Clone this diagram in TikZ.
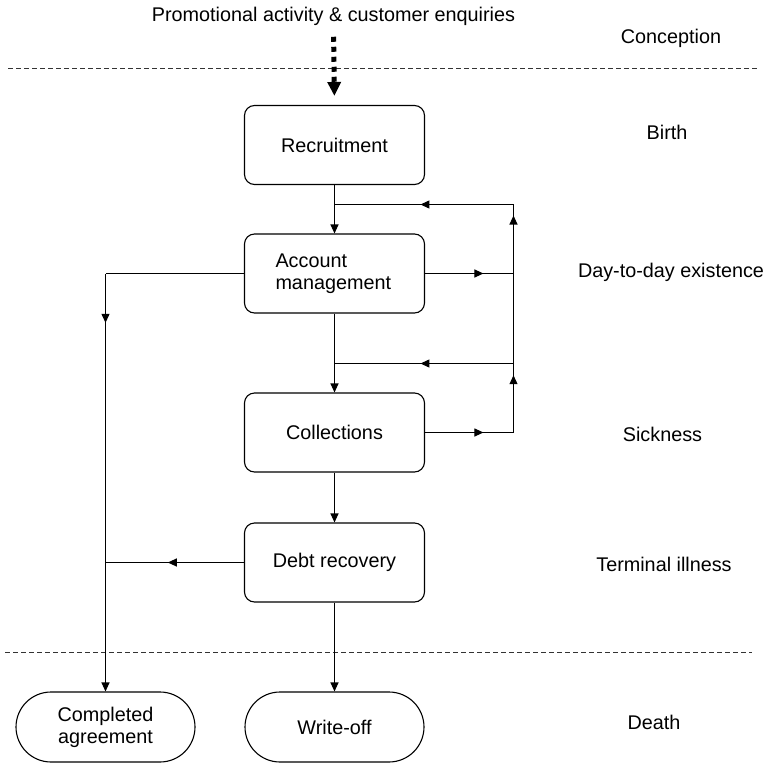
\documentclass[tikz,border=0pt]{standalone}
\usepackage{fontspec}
\setmainfont{Liberation Sans}
\usetikzlibrary{arrows.meta,decorations.markings}

\tikzset{
  flow/.style={line width=1.1pt, draw=black},
  tip/.style={-{Triangle[length=9pt,width=8pt]}},
  box/.style={draw, line width=1.1pt, rounded corners=10pt, minimum width=180pt,
    minimum height=79pt, font=\fontsize{19.8}{22}\selectfont, align=center},
  terminal/.style={draw, line width=1.1pt, rounded corners=35pt, minimum width=179pt,
    minimum height=70pt, font=\fontsize{19.8}{22}\selectfont, align=center},
  stage/.style={font=\fontsize{19.8}{22}\selectfont, anchor=center},
  phase/.style={line width=1pt, dash pattern=on 5pt off 3pt, draw=black!80},
  midtip/.style={postaction={decorate}, decoration={markings,
    mark=at position #1 with {\arrow{Triangle[length=9pt,width=8pt]}}}}
}

\begin{document}
\begin{tikzpicture}[x=1pt,y=-1pt]
\useasboundingbox (0,0) rectangle (771,763);

% phase separators
\draw[phase] (8,68.5) -- (757,68.5);
\draw[phase] (5,652.5) -- (752,652.5);

% source of new customers
\node[stage] (promo) at (333.5,16) {Promotional activity \& customer enquiries};

% process boxes
\node[box] (rec) at (334.5,145) {Recruitment};
\node[box, text width=118pt, align=left] (acc) at (334.5,273.5) {Account\\management};
\node[box] (col) at (334.5,432.5) {Collections};
\node[box] (debt) at (334.5,562.5) {Debt recovery};
\node[terminal] (comp) at (105.5,727) {Completed\\agreement};
\node[terminal] (wo) at (334.5,727) {Write-off};

% life-cycle stage labels
\node[stage] (s1) at (671,38) {Conception};
\node[stage] (s2) at (667,132) {Birth};
\node[stage] (s3) at (671,272) {Day-to-day existence};
\node[stage] (s4) at (662.5,434) {Sickness};
\node[stage] (s5) at (664,564) {Terminal illness};
\node[stage] (s6) at (654,722) {Death};

% junction points of the feedback loops
\coordinate (aR) at (513.5,273.5);
\coordinate (cR) at (513.5,432.5);
\coordinate (tR) at (513.5,204.5);
\coordinate (mR) at (513.5,363.5);
\coordinate (topJ) at (334.5,204.5);
\coordinate (midJ) at (334.5,363.5);
\coordinate (lT) at (105.5,273.5);
\coordinate (lD) at (105.5,562.5);

% inflow of enquiries
\draw[line width=5pt, dash pattern=on 5pt off 5pt,
      -{Triangle[length=14pt,width=13pt]}, shorten <=8pt, shorten >=9pt]
  (promo.south) -- (rec.north);

% main line of descent
\draw[flow, tip] (rec.south) -- (acc.north);
\draw[flow, tip] (acc.south) -- (col.north);
\draw[flow, tip] (col.south) -- (debt.north);
\draw[flow, tip] (debt.south) -- (wo.north);

% feedback loops on the right
\draw[flow, midtip=0.66] (acc.east) -- (aR);
\draw[flow, midtip=0.84] (aR) -- (tR);
\draw[flow, midtip=0.52] (tR) -- (topJ);
\draw[flow] (aR) -- (mR);
\draw[flow, midtip=0.66] (col.east) -- (cR);
\draw[flow, midtip=0.83] (cR) -- (mR);
\draw[flow, midtip=0.52] (mR) -- (midJ);

% early settlement path on the left
\draw[flow] (acc.west) -- (lT);
\draw[flow, tip, midtip=0.118] (lT) -- (comp.north);
\draw[flow, midtip=0.55] (debt.west) -- (lD);
\end{tikzpicture}
\end{document}
